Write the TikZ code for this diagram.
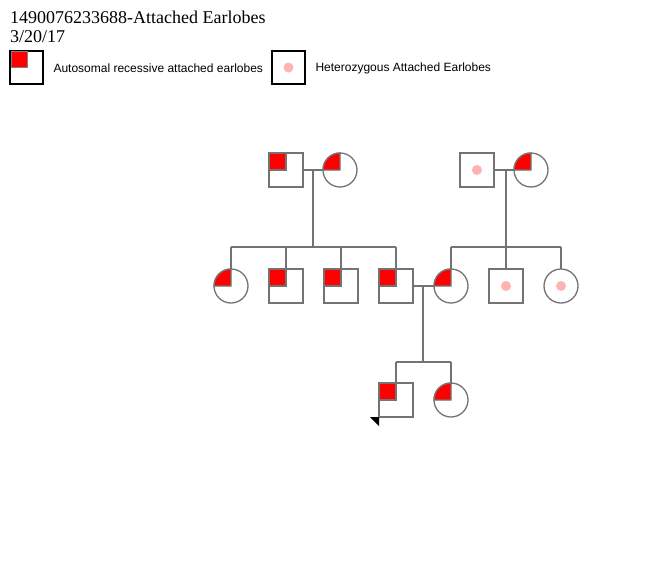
\documentclass[tikz,border=0pt]{standalone}
\usepackage{fontspec}
\setmainfont{Liberation Serif}
\setsansfont{Liberation Sans}
\begin{document}
\begin{tikzpicture}[x=1pt,y=-1pt,
  ln/.style={draw=gray!90!black,line width=1.3pt},
  sq/.style={ln,fill=white,minimum size=34pt,inner sep=0pt,draw},
  ci/.style={ln,fill=white,circle,minimum size=34pt,inner sep=0pt,draw},
  lt/.style={font=\sffamily\fontsize{12}{14}\selectfont,anchor=west}]
\useasboundingbox (0,0) rectangle (662,563);
\node[anchor=north west,align=left,inner sep=0pt,font=\fontsize{18}{19}\selectfont] (title) at (10,11) {1490076233688-Attached Earlobes\\3/20/17};
% legend
\node[draw=black,line width=1.6pt,minimum size=33pt,inner sep=0pt] (lg1) at (26.5,67.5) {};
\fill[red,draw=gray] (11,51) rectangle (27,67);
\node[lt] (lt1) at (50,68) {Autosomal recessive attached earlobes};
\node[draw=black,line width=1.6pt,minimum size=33pt,inner sep=0pt] (lg2) at (288.5,67.5) {};
\fill[red!30] (288.5,67.5) circle (5);
\node[lt] (lt2) at (312,68) {Heterozygous Attached Earlobes};
% connectors
\coordinate (c1) at (313,170); \coordinate (s1) at (313,247);
\coordinate (c2) at (506,170); \coordinate (s2) at (506,247);
\coordinate (c3) at (423,286); \coordinate (s3) at (423,362);
\draw[ln] (c1)--(s1) (231,247)--(396,247);
\foreach \x in {231,286,341,396} \draw[ln] (\x,247)--(\x,270);
\draw[ln] (c2)--(s2) (451,247)--(561,247);
\foreach \x in {451,506,561} \draw[ln] (\x,247)--(\x,270);
\draw[ln] (c3)--(s3) (396,362)--(451,362);
\foreach \x in {396,451} \draw[ln] (\x,362)--(\x,384);
\draw[ln] (303,170)--(323,170) (494,170)--(514,170) (413,286)--(434,286);
% symbols
\def\affsq#1#2#3{\node[sq] (#3) at (#1,#2) {};\fill[red,draw=gray!90!black,line width=1.3pt] (#1-17,#2-17) rectangle (#1,#2);}
\def\affci#1#2#3{\node[ci] (#3) at (#1,#2) {};\fill[red,draw=gray!90!black,line width=1.3pt] (#1,#2)--(#1-17,#2) arc[start angle=180,end angle=270,radius=17]--cycle;}
\def\hetsq#1#2#3{\node[sq] (#3) at (#1,#2) {};\fill[red!30] (#1,#2) circle (5);}
\def\hetci#1#2#3{\node[ci] (#3) at (#1,#2) {};\fill[red!30] (#1,#2) circle (5);}
\affsq{286}{170}{a1}\affci{340}{170}{a2}
\hetsq{477}{170}{b1}\affci{531}{170}{b2}
\affci{231}{286}{g1}\affsq{286}{286}{g2}\affsq{341}{286}{g3}\affsq{396}{286}{g4}
\affci{451}{286}{g5}\hetsq{506}{286}{g6}\hetci{561}{286}{g7}
\affsq{396}{400}{p1}\affci{451}{400}{p2}
\fill[black] (370,417)--(379,417)--(379,426)--cycle;
\end{tikzpicture}
\end{document}
